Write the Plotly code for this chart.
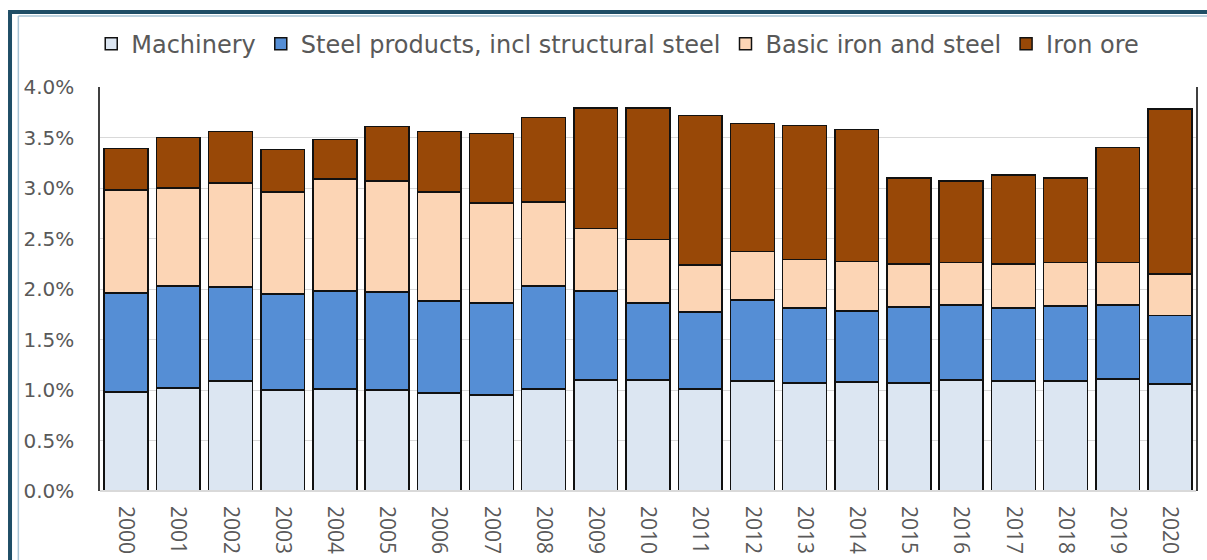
import plotly.graph_objects as go

years = [str(y) for y in range(2000, 2021)]
machinery = [0.98, 1.02, 1.09, 1.00, 1.01, 1.00, 0.97, 0.95, 1.01, 1.10, 1.10,
             1.01, 1.09, 1.07, 1.08, 1.07, 1.10, 1.09, 1.09, 1.11, 1.06]
steel_products = [0.98, 1.01, 0.93, 0.95, 0.97, 0.97, 0.91, 0.91, 1.02, 0.88, 0.76,
                  0.76, 0.80, 0.74, 0.70, 0.75, 0.74, 0.72, 0.74, 0.73, 0.68]
basic_iron_steel = [1.02, 0.97, 1.03, 1.01, 1.11, 1.10, 1.08, 0.99, 0.83, 0.62, 0.63,
                    0.47, 0.48, 0.48, 0.49, 0.43, 0.42, 0.44, 0.43, 0.42, 0.41]
iron_ore = [0.41, 0.50, 0.51, 0.42, 0.39, 0.54, 0.60, 0.69, 0.84, 1.19, 1.30,
            1.48, 1.27, 1.33, 1.31, 0.85, 0.81, 0.88, 0.84, 1.14, 1.63]

names = ["Machinery", "Steel products, incl structural steel", "Basic iron and steel", "Iron ore"]
colors = ["#DCE6F2", "#558ED5", "#FCD5B5", "#984807"]
series = [machinery, steel_products, basic_iron_steel, iron_ore]

fig = go.Figure()
for n, c, s in zip(names, colors, series):
    fig.add_trace(go.Bar(
        x=years, y=[v / 100 for v in s], name=n,
        marker=dict(color=c, line=dict(color="#111111", width=1.5)),
    ))

fig.update_layout(
    barmode="stack",
    bargap=0.16,
    width=1207, height=560,
    margin=dict(l=100, r=11, t=87, b=69, autoexpand=False),
    paper_bgcolor="white", plot_bgcolor="white",
    font=dict(family="DejaVu Sans, sans-serif", size=20, color="#595959"),
    legend=dict(orientation="h", x=-0.008, xanchor="left", y=1.106, yanchor="middle",
                font=dict(family="DejaVu Sans, sans-serif", size=24, color="#595959"),
                traceorder="normal", bgcolor="rgba(0,0,0,0)",
                itemwidth=30, tracegroupgap=0),
    showlegend=True,
)
fig.update_yaxes(range=[0, 0.04], dtick=0.005, tickformat=".1%", automargin=False,
                 showgrid=True, gridcolor="#D9D9D9", gridwidth=1,
                 showline=True, linecolor="#404040", linewidth=1.5, mirror=True,
                 zeroline=False, ticks="", ticklabelstandoff=20,
                 tickfont=dict(family="DejaVu Sans, sans-serif", size=20, color="#595959"))
fig.update_xaxes(tickangle=90, showline=False, ticks="", ticklabelstandoff=14, automargin=False,
                 tickfont=dict(family="Open Sans, sans-serif", size=21, color="#595959"))

# bottom axis line (light gray)
fig.add_shape(type="line", xref="paper", yref="paper", x0=0, x1=1, y0=0, y1=0,
              line=dict(color="#D9D9D9", width=2))
# outer frame (dark teal) on left and top
fig.add_shape(type="line", xref="paper", yref="paper", x0=-0.0745, x1=-0.0745, y0=-0.2, y1=1.176,
              line=dict(color="#A9C4D4", width=1.5))
fig.add_shape(type="line", xref="paper", yref="paper", x0=-0.0745, x1=1.1, y0=1.176, y1=1.176,
              line=dict(color="#A9C4D4", width=1.5))
fig.add_shape(type="line", xref="paper", yref="paper", x0=-0.0821, x1=-0.0821, y0=-0.3, y1=1.1856,
              line=dict(color="#1F4E66", width=4))
fig.add_shape(type="line", xref="paper", yref="paper", x0=-0.0839, x1=1.1, y0=1.1856, y1=1.1856,
              line=dict(color="#1F4E66", width=4))

fig.write_html("out.html", config={"displayModeBar": False},
               post_script="document.body.style.margin='0';document.body.style.overflow='hidden';")
